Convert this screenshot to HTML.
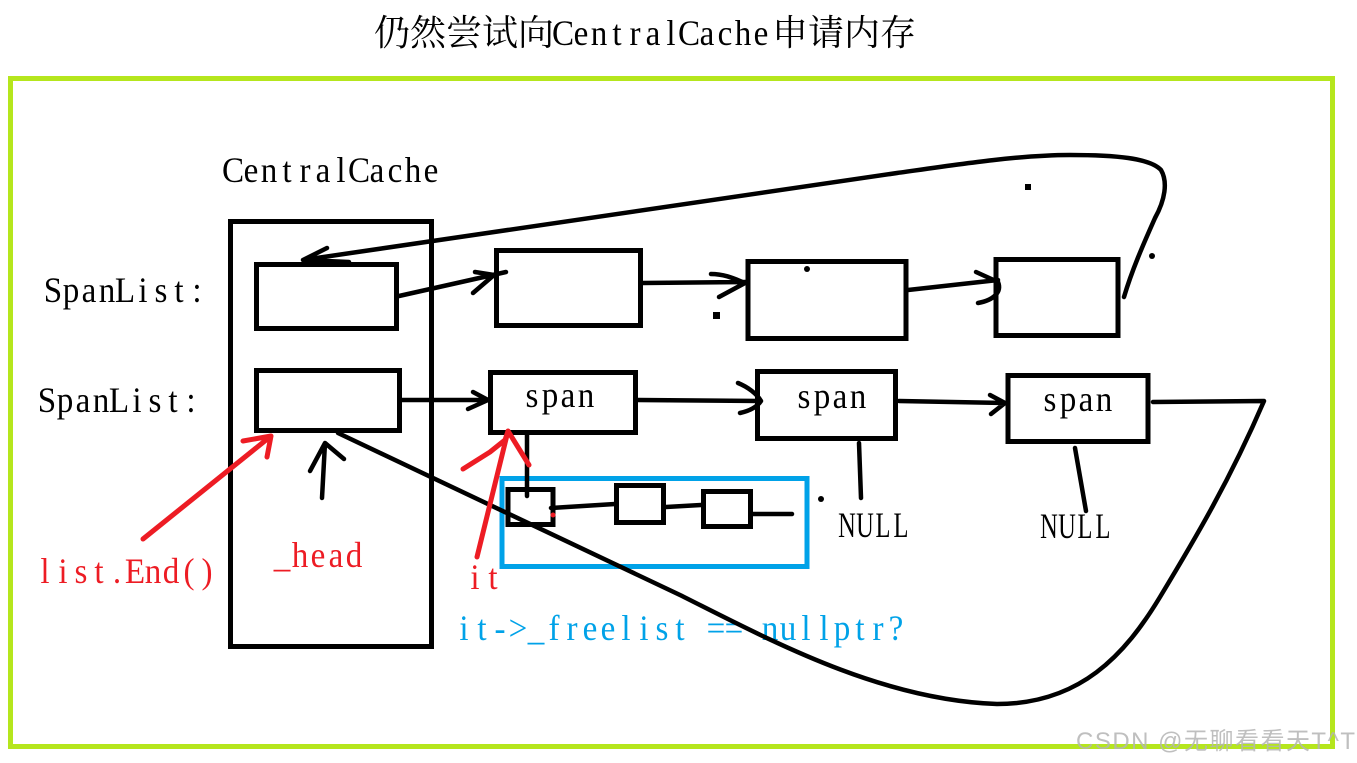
<!DOCTYPE html>
<html>
<head>
<meta charset="utf-8">
<style>
html,body{margin:0;padding:0;background:#fff;width:1357px;height:763px;overflow:hidden}
svg{display:block}
text{font-family:"Liberation Serif","Noto Serif CJK SC",serif;font-size:36px;text-anchor:middle}
.c{text-anchor:start}
.k{fill:none;stroke:#000;stroke-width:4.5;stroke-linecap:round;stroke-linejoin:round}
.b{fill:none;stroke:#000;stroke-width:5}
.r{fill:none;stroke:#ed1c24;stroke-width:5;stroke-linecap:round;stroke-linejoin:round}
</style>
</head>
<body>
<svg width="1357" height="763" viewBox="0 0 1357 763" xmlns="http://www.w3.org/2000/svg">
<rect width="1357" height="763" fill="#fff"/>

<!-- frame -->
<rect x="10.5" y="78.5" width="1322" height="668" fill="none" stroke="#b5e61d" stroke-width="5"/>

<!-- title -->
<text class="c" x="374" y="45" textLength="180" lengthAdjust="spacing" font-family="Noto Serif CJK SC">仍然尝试向</text>
<text transform="translate(554 45) scale(.92 1)" x="9.78 29.35 48.91 68.48 88.04 107.61 127.17 146.74 166.3 185.87 205.43 225">CentralCache</text>
<text class="c" x="772" y="45" textLength="144" lengthAdjust="spacing">申请内存</text>

<!-- labels -->
<text transform="translate(224 182) scale(.92 1)" x="9.78 29.35 48.91 68.48 88.04 107.61 127.17 146.74 166.3 185.87 205.43 225">CentralCache</text>
<text transform="translate(44 302) scale(.92 1)" x="9.78 29.35 48.91 68.48 88.04 107.61 127.17 146.74 166.3">SpanList:</text>
<text transform="translate(38 412) scale(.92 1)" x="9.78 29.35 48.91 68.48 88.04 107.61 127.17 146.74 166.3">SpanList:</text>
<text transform="translate(523 407) scale(.92 1)" x="9.78 29.35 48.91 68.48">span</text>
<text transform="translate(795 408) scale(.92 1)" x="9.78 29.35 48.91 68.48">span</text>
<text transform="translate(1041 411) scale(.92 1)" x="9.78 29.35 48.91 68.48">span</text>
<text transform="translate(838 537) scale(.68 1)" x="13.2 39.7 66.2 92.7">NULL</text>
<text transform="translate(1040 538) scale(.68 1)" x="13.2 39.7 66.2 92.7">NULL</text>
<text transform="translate(36 583) scale(.92 1)" x="9.78 29.35 48.91 68.48 88.04 107.61 127.17 146.74 166.3 185.87" fill="#ed1c24">list.End()</text>
<text transform="translate(273 567) scale(.92 1)" x="9.78 29.35 48.91 68.48 88.04" fill="#ed1c24">_head</text>
<text transform="translate(466 589) scale(.92 1)" x="9.78 29.35" fill="#ed1c24">it</text>
<text transform="translate(455 640) scale(.92 1)" x="9.78 29.35 48.91 68.48 88.04 107.61 127.17 146.74 166.3 185.87 205.43 225 244.57 264.13 283.7 303.26 322.83 342.39 361.96 381.52 401.09 420.65 440.22 459.78 479.35" fill="#00a2e8">it-&gt;_freelist == nullptr?</text>

<!-- boxes -->
<rect x="230.5" y="221.5" width="201" height="425" class="b"/>
<rect x="256.5" y="264.5" width="140" height="64" class="b"/>
<rect x="496.5" y="250.5" width="144" height="75" class="b"/>
<rect x="748" y="261.5" width="158" height="77" class="b"/>
<rect x="996" y="259.5" width="122" height="76" class="b"/>
<rect x="256.5" y="370.5" width="143" height="60" class="b"/>
<rect x="490.5" y="372.5" width="145" height="60" class="b"/>
<rect x="757.5" y="371.5" width="138" height="67" class="b"/>
<rect x="1008" y="375.5" width="140" height="66" class="b"/>

<!-- blue box -->
<rect x="502" y="478.5" width="305" height="88" fill="none" stroke="#00a2e8" stroke-width="5"/>

<!-- small boxes -->
<rect x="508" y="489.5" width="45" height="35" class="b"/>
<rect x="616.5" y="485.5" width="47" height="37" class="b"/>
<rect x="703.5" y="491.5" width="47" height="35" class="b"/>
<path class="k" d="M527 435L527 496M551 508L615 504M666 507L701 505M753 514L792 514"/>

<!-- top row connectors -->
<path class="k" d="M399 296L506 272M475 272L494 275L473 293"/>
<path class="k" d="M642 283L746 282M711 274C725 274 735 279 745 283L719 297"/>
<path class="k" d="M908 290L998 280M976 272L998 282C1002 292 994 300 978 303"/>
<path class="k" d="M349 262L303 260L327 248M303 260L897 173C960 164 1020 155 1070 155C1115 155 1150 158 1161 170C1168 182 1165 200 1155 218C1143 245 1132 270 1124 297"/>

<!-- bottom row connectors -->
<path class="k" d="M402 400L488 400M473 392L488 400L468 409"/>
<path class="k" d="M638 400L761 401M738 383C748 387 757 394 761 401C757 407 749 411 740 413"/>
<path class="k" d="M899 401L1005 403M990 395L1005 403L991 414"/>
<path class="k" d="M338 433L680 595C770 640 880 700 997 704C1080 704 1125 655 1160 597C1195 539 1230 480 1264 401L1153 402"/>

<!-- NULL lines -->
<path class="k" d="M859 443L861 498M1075 448L1086 511"/>

<!-- head arrow -->
<path class="k" d="M322 498L325 443M310 471L325 443L344 459"/>

<!-- dots -->
<rect x="1025" y="184" width="6" height="6" fill="#000"/>
<rect x="713" y="312" width="7" height="7" fill="#000"/>
<circle cx="807" cy="269" r="3" fill="#000"/>
<circle cx="1152" cy="256" r="3" fill="#000"/>
<circle cx="821" cy="499" r="3" fill="#000"/>

<!-- red arrows -->
<path class="r" d="M143 539L271 436M243 441L271 436L267 457"/>
<path class="r" d="M477 557L508 431M463 469L490 452L505 440L508 431L529 465"/>
<circle cx="553" cy="515" r="2.5" fill="#ed1c24"/>

<!-- watermark -->
<text class="c" x="1076" y="749" style="font-family:'Liberation Sans','Noto Sans CJK SC',sans-serif;font-size:24px" fill="#b4b4b4" fill-opacity="0.85" textLength="279" lengthAdjust="spacing">CSDN @无聊看看天T^T</text>
</svg>
</body>
</html>
